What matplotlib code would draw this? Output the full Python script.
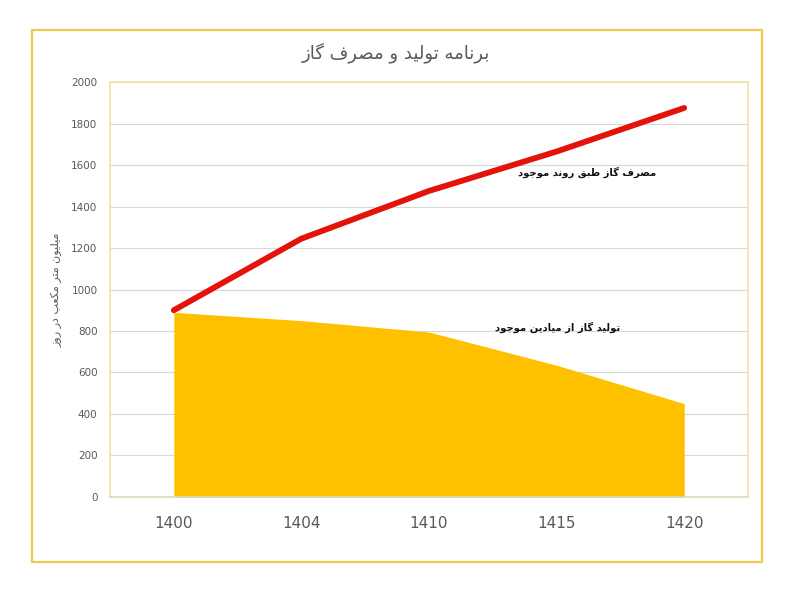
import matplotlib
matplotlib.use('Agg')
from matplotlib import pyplot as plt
from matplotlib.patches import Rectangle
import numpy as np

# data
years = ['1400', '1404', '1410', '1415', '1420']
consumption = [900, 1245, 1475, 1665, 1875]   # red line
production = [890, 850, 795, 635, 450]        # gold area
y_ticks = list(range(0, 2001, 200))

title = 'برنامه تولید و مصرف گاز'
y_label = 'میلیون متر مکعب در روز'
label_consumption = 'مصرف گاز طبق روند موجود'
label_production = 'تولید گاز از میادین موجود'

# contextual forms: isolated, final, initial, medial
FORMS = {
    'ا': ('\uFE8D', '\uFE8E', None, None),
    'ب': ('\uFE8F', '\uFE90', '\uFE91', '\uFE92'),
    'ت': ('\uFE95', '\uFE96', '\uFE97', '\uFE98'),
    'ج': ('\uFE9D', '\uFE9E', '\uFE9F', '\uFEA0'),
    'د': ('\uFEA9', '\uFEAA', None, None),
    'ر': ('\uFEAD', '\uFEAE', None, None),
    'ز': ('\uFEAF', '\uFEB0', None, None),
    'ص': ('\uFEB9', '\uFEBA', '\uFEBB', '\uFEBC'),
    'ط': ('\uFEC1', '\uFEC2', '\uFEC3', '\uFEC4'),
    'ع': ('\uFEC9', '\uFECA', '\uFECB', '\uFECC'),
    'ف': ('\uFED1', '\uFED2', '\uFED3', '\uFED4'),
    'ق': ('\uFED5', '\uFED6', '\uFED7', '\uFED8'),
    'ل': ('\uFEDD', '\uFEDE', '\uFEDF', '\uFEE0'),
    'م': ('\uFEE1', '\uFEE2', '\uFEE3', '\uFEE4'),
    'ن': ('\uFEE5', '\uFEE6', '\uFEE7', '\uFEE8'),
    'ه': ('\uFEE9', '\uFEEA', '\uFEEB', '\uFEEC'),
    'و': ('\uFEED', '\uFEEE', None, None),
    'ک': ('\uFB8E', '\uFB8F', '\uFB90', '\uFB91'),
    'گ': ('\uFB92', '\uFB93', '\uFB94', '\uFB95'),
    'ی': ('\uFBFC', '\uFBFD', '\uFBFE', '\uFBFF'),
}


def fa(text):
    # shape persian letters and put them in visual order (matplotlib has no bidi)
    out = []
    for i, ch in enumerate(text):
        if ch not in FORMS:
            out.append(ch)
            continue
        f = FORMS[ch]
        prev = text[i - 1] if i > 0 else None
        nxt = text[i + 1] if i + 1 < len(text) else None
        join_prev = prev in FORMS and FORMS[prev][2] is not None
        join_next = f[2] is not None and nxt in FORMS
        if join_prev and join_next:
            out.append(f[3])
        elif join_prev:
            out.append(f[1])
        elif join_next:
            out.append(f[2])
        else:
            out.append(f[0])
    return ''.join(reversed(out))


plt.rcParams['font.family'] = ['DejaVu Sans']

fig = plt.figure(figsize=(8, 5.93), dpi=100)
ax = fig.add_axes([0.1375, 0.1619, 0.7975, 0.6998])

x = np.arange(len(years))
ax.fill_between(x, production, 0, color='#FFC000', linewidth=0, zorder=2)
ax.plot(x, consumption, color='#E3120B', linewidth=4.2, solid_capstyle='round', zorder=3)

ax.set_xlim(-0.5, len(years) - 0.5)
ax.set_ylim(0, 2000)
ax.set_yticks(y_ticks)
ax.set_xticks(x)
ax.set_xticklabels(years, fontsize=11, color='#595959', fontweight='medium')
ax.tick_params(axis='y', labelsize=7.5, colors='#595959', length=0, pad=9)
ax.tick_params(axis='x', length=0, pad=14)
ax.grid(axis='y', color='#D9D9D9', linewidth=0.8, zorder=0)
ax.set_axisbelow(True)
for s in ax.spines.values():
    s.set_color('#F3E3A6')
    s.set_linewidth(1.2)
ax.spines['bottom'].set_color('#D9D9C0')

ax.set_ylabel(fa(y_label), fontsize=8, color='#595959', labelpad=6)

ax.text(3.78, 1565, fa(label_consumption), fontsize=7.2, fontweight='bold',
        ha='right', va='center', color='#111111', zorder=4)
ax.text(3.5, 820, fa(label_production), fontsize=7.2, fontweight='bold',
        ha='right', va='center', color='#111111', zorder=4)

fig.text(0.495, 0.912, fa(title), fontsize=13, color='#595959', ha='center', va='center')

fig.patches.append(Rectangle((0.04, 0.0523), 0.9125, 0.8971, transform=fig.transFigure,
                             fill=False, edgecolor='#F2C94C', linewidth=1.6))

fig.savefig('out.png', dpi=100)
